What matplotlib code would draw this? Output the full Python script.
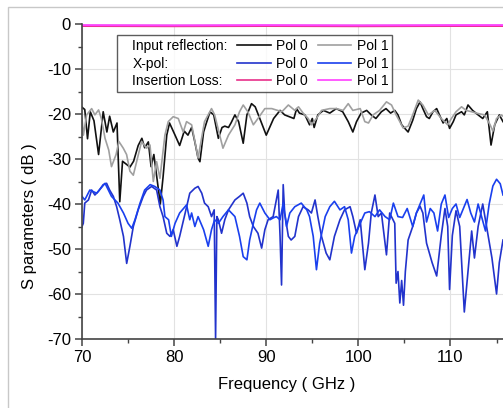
import matplotlib
matplotlib.use("Agg")
import matplotlib.pyplot as plt
from matplotlib.lines import Line2D
from matplotlib.patches import Rectangle
from matplotlib.offsetbox import DrawingArea

plt.rcParams['font.family'] = ['Liberation Sans', 'DejaVu Sans']
plt.rcParams['axes.unicode_minus'] = False

# input reflection, pol 0 (black)
refl0_f = [70.0, 70.3, 70.6, 70.9, 71.3, 71.8, 72.3, 72.7, 73.0, 73.4, 73.8, 74.1, 74.4, 74.9,
           75.2, 75.6, 76.1, 76.5, 76.8, 77.2, 77.5, 77.8, 78.5, 78.8, 79.2, 79.5, 80.1, 80.6,
           81.1, 81.5, 81.9, 82.25, 82.6, 82.8, 83.2, 83.5, 83.9, 84.3, 84.8, 85.2, 85.5, 85.9,
           86.2, 86.6, 87.0, 87.5, 87.9, 88.4, 88.8, 89.3, 90.0, 90.8, 91.5, 92.0, 92.5, 93.0,
           93.3, 93.6, 94.2, 94.7, 95.0, 95.2, 95.6, 96.2, 96.9, 97.6, 98.3, 98.9, 99.4, 99.8,
           100.3, 100.9, 101.4, 101.9, 102.5, 103.0, 103.5, 103.95, 104.3, 104.7, 105.0, 105.4,
           105.9, 106.3, 106.7, 107.0, 107.4, 107.7, 108.1, 108.5, 108.8, 109.2, 109.6, 109.9,
           110.3, 110.6, 111.2, 111.5, 111.9, 112.4, 113.0, 113.5, 114.0, 114.4, 114.8, 115.3, 115.7]
refl0_db = [-18.5, -19.0, -25.5, -19.5, -21.5, -29.0, -19.5, -24.0, -20.5, -24.0, -22.0, -39.5, -30.5, -31.3,
            -31.8, -30.5, -27.0, -25.4, -27.5, -26.2, -31.7, -29.0, -40.0, -34.0, -24.7, -22.0, -24.7, -27.0,
            -23.8, -24.7, -23.0, -26.2, -29.8, -30.6, -24.0, -22.0, -19.5, -20.2, -25.4, -23.0, -22.7, -23.0,
            -21.9, -20.2, -21.7, -26.5, -20.2, -17.7, -18.4, -21.0, -24.7, -21.0, -19.2, -20.2, -20.6, -21.0,
            -18.8, -19.8, -20.2, -22.4, -21.0, -23.0, -20.2, -19.2, -19.8, -18.8, -19.5, -21.7, -24.0, -21.7,
            -19.8, -19.2, -20.2, -21.0, -19.5, -18.8, -19.8, -19.2, -20.2, -22.4, -23.1, -24.0,
            -21.4, -18.8, -17.3, -18.8, -20.6, -21.0, -19.5, -18.8, -20.2, -22.0, -21.0, -23.2,
            -21.7, -20.2, -19.5, -20.2, -18.0, -19.2, -20.2, -21.0, -19.5, -26.9, -22.4, -20.2, -21.7]

# input reflection, pol 1 (grey)
refl1_f = [70.0, 70.15, 70.5, 71.05, 71.4, 71.8, 72.1, 72.5, 72.9, 73.2, 73.7, 74.0, 74.48, 74.84,
           75.2, 75.57, 75.93, 76.47, 77.0, 77.38, 77.74, 78.1, 78.46, 79.0, 79.36, 79.9, 80.45, 80.99,
           81.35, 81.9, 82.4, 82.6, 83.3, 84.06, 84.4, 85.3, 85.9, 86.6, 87.1, 87.5, 88.0, 88.6,
           89.1, 89.85, 90.6, 91.7, 92.4, 93.1, 93.5, 94.0, 94.55, 94.9, 95.45, 96.0, 96.9, 97.6,
           98.35, 98.9, 99.4, 100.2, 100.7, 101.1, 101.6, 102.3, 103.05, 103.6, 104.1, 104.5, 104.85,
           105.4, 105.9, 106.5, 107.0, 107.6, 108.3, 109.0, 109.7, 110.1, 110.6, 111.2, 111.7, 112.3,
           113.0, 113.7, 114.3, 114.6, 115.0, 115.5, 115.7]
refl1_db = [-21.0, -24.7, -20.2, -18.8, -20.2, -19.1, -21.0, -25.4, -28.0, -31.7, -29.0, -26.1, -27.6, -29.0,
            -32.7, -33.6, -30.6, -26.1, -27.6, -26.9, -35.0, -30.6, -34.3, -24.7, -21.7, -20.6, -21.0, -24.0,
            -21.7, -22.4, -27.6, -29.8, -21.7, -18.8, -20.2, -27.6, -24.7, -22.4, -19.5, -18.0, -19.5, -22.4,
            -21.0, -18.8, -18.8, -19.5, -18.0, -19.2, -18.4, -19.8, -21.0, -22.4, -21.0, -19.2, -18.8, -18.8,
            -19.2, -17.7, -19.2, -18.8, -21.7, -22.0, -20.2, -19.2, -17.3, -18.0, -20.2, -21.7, -23.1,
            -22.7, -20.2, -16.9, -18.0, -20.2, -19.2, -21.0, -22.4, -21.0, -19.5, -18.4, -19.2, -19.5,
            -19.9, -20.2, -22.4, -23.8, -21.0, -20.2, -20.5]

# x-pol, pol 0
xpol0_f = [70.0, 70.14, 70.3, 70.7, 71.05, 71.4, 71.77, 72.3, 72.67, 73.0, 73.4, 73.76, 74.1, 74.5,
           74.85, 75.2, 75.57, 76.1, 76.65, 77.0, 77.56, 78.1, 78.46, 78.8, 79.2, 79.55, 79.9, 80.3,
           80.6, 81.2, 81.7, 82.25, 82.6, 83.0, 83.3, 83.7, 84.06, 84.35, 84.5, 84.64, 84.8, 85.15,
           85.5, 85.9, 86.6, 87.1, 87.5, 87.9, 88.2, 88.6, 89.1, 89.5, 89.85, 90.2, 90.75, 91.3,
           91.5, 91.66, 91.84, 92.0, 92.4, 92.7, 93.1, 93.5, 94.0, 94.55, 94.9, 95.3, 95.6, 96.0,
           96.5, 96.9, 97.4, 98.0, 98.5, 99.1, 99.4, 99.8, 100.2, 100.7, 101.1, 101.4, 101.8, 102.15,
           102.5, 103.05, 103.4, 103.95, 104.1, 104.3, 104.5, 104.7, 104.9, 105.1, 105.4, 105.9,
           106.3, 106.7, 107.0, 107.4, 108.0, 108.5, 109.0, 109.4, 109.7, 109.9, 110.2, 110.6,
           111.0, 111.5, 111.9, 112.3, 112.6, 113.0, 113.5, 114.0, 114.5, 115.0, 115.3, 115.7]
xpol0_db = [-45.0, -44.3, -39.8, -39.1, -36.9, -38.0, -37.2, -35.7, -35.4, -36.9, -38.3, -40.6, -43.5, -47.2,
            -53.2, -49.4, -45.0, -41.3, -38.3, -36.9, -36.1, -36.9, -40.6, -42.8, -46.5, -47.2, -45.7, -49.4,
            -47.2, -42.0, -37.6, -36.5, -36.1, -37.6, -39.8, -40.6, -42.8, -41.3, -70.0, -42.8, -43.5, -46.5,
            -43.5, -41.3, -39.1, -38.3, -37.6, -39.8, -42.8, -45.0, -46.5, -49.8, -45.7, -43.5, -42.8, -36.9,
            -47.2, -58.0, -35.7, -42.0, -47.2, -48.0, -47.2, -42.8, -40.6, -41.3, -42.0, -39.1, -42.8, -47.2,
            -50.9, -52.4, -47.2, -43.5, -41.3, -40.6, -42.8, -46.5, -43.5, -54.6, -48.7, -42.0, -38.0, -42.8,
            -42.0, -51.3, -42.0, -44.3, -57.6, -55.0, -62.0, -57.0, -62.5, -55.0, -48.0, -45.0,
            -42.0, -40.5, -42.0, -48.7, -53.0, -56.0, -47.0, -41.0, -45.0, -59.0, -47.0, -41.5,
            -45.0, -64.0, -55.0, -46.0, -52.0, -45.0, -40.0, -46.0, -52.0, -60.0, -53.0, -48.0]

# x-pol, pol 1
xpol1_f = [70.0, 70.3, 70.85, 71.6, 72.5, 73.2, 73.9, 74.5, 75.0, 75.4, 75.75, 76.3, 76.8, 77.4,
           77.9, 78.46, 78.8, 79.0, 79.4, 79.7, 80.1, 80.6, 81.35, 81.7, 81.9, 82.25, 82.6, 83.2,
           83.7, 84.06, 84.4, 84.8, 85.3, 85.9, 86.6, 87.1, 87.5, 87.9, 88.2, 88.6, 88.95, 89.3,
           89.85, 90.4, 90.75, 91.1, 91.5, 91.84, 92.2, 92.56, 93.1, 93.8, 94.4, 94.7, 95.1, 95.45,
           95.8, 96.4, 96.9, 97.4, 98.0, 98.5, 98.9, 99.25, 99.6, 100.2, 100.7, 101.2, 101.8, 102.3,
           102.9, 103.4, 103.8, 104.3, 104.8, 105.3, 105.9, 106.3, 106.7, 107.1, 107.4, 107.8, 108.2,
           108.6, 109.0, 109.4, 109.8, 110.2, 110.6, 111.0, 111.4, 111.8, 112.2, 112.6, 113.0, 113.4,
           113.8, 114.2, 114.6, 115.0, 115.4, 115.7]
xpol1_db = [-38.3, -39.1, -36.9, -37.6, -35.4, -38.3, -39.8, -42.0, -44.3, -45.4, -43.5, -39.8, -36.9, -35.7,
            -36.1, -36.9, -39.1, -42.8, -43.5, -47.2, -44.3, -42.0, -40.2, -43.5, -42.0, -45.0, -42.8, -45.7,
            -49.4, -45.7, -43.5, -44.3, -42.8, -41.3, -42.8, -47.2, -51.7, -52.4, -48.0, -44.3, -41.3, -39.8,
            -42.0, -43.5, -43.1, -42.8, -43.5, -39.8, -45.0, -42.0, -40.6, -39.8, -41.3, -42.8, -47.2, -54.6,
            -48.7, -42.8, -40.6, -39.4, -41.3, -40.6, -43.5, -50.9, -47.2, -44.3, -42.0, -41.7, -42.8, -41.3,
            -42.8, -43.5, -39.8, -42.8, -43.0, -41.0, -45.0, -42.0, -40.0, -38.0, -44.0, -41.0, -42.0,
            -46.0, -40.0, -38.0, -43.0, -41.0, -40.0, -43.0, -41.0, -39.0, -42.0, -44.0, -40.0, -43.0,
            -46.0, -40.0, -36.0, -34.5, -35.5, -38.0]

# insertion loss
il_f = [70.0, 80.0, 90.0, 100.0, 110.0, 115.7]
il0_db = [-0.45, -0.5, -0.45, -0.5, -0.45, -0.45]
il1_db = [-0.25, -0.3, -0.25, -0.3, -0.25, -0.25]

fig = plt.figure(figsize=(5.03, 4.08), dpi=100)
fig.patches.append(Rectangle((8 / 503, -0.1), 1.2, 1.1 - 7 / 408, transform=fig.transFigure,
                             fill=False, edgecolor='#c8c8c8', linewidth=1.0))
ax = fig.add_axes([82 / 503, 69 / 408, 1 - 82 / 503, 315 / 408])

ax.plot(refl0_f, refl0_db, color='#111111', lw=1.2)
ax.plot(refl1_f, refl1_db, color='#a0a0a0', lw=1.2)
ax.plot(xpol0_f, xpol0_db, color='#2233cc', lw=1.2)
ax.plot(xpol1_f, xpol1_db, color='#1a40ee', lw=1.2)
ax.plot(il_f, il0_db, color='#e8308a', lw=1.4)
ax.plot(il_f, il1_db, color='#ff40ff', lw=1.4)

ax.set_xlim(70, 115.7)
ax.set_ylim(-70, 0)
ax.set_xticks([70, 80, 90, 100, 110])
ax.set_xticks([75, 85, 95, 105, 115], minor=True)
ax.set_yticks(range(-70, 1, 10))
ax.set_yticks(range(-65, 0, 10), minor=True)
ax.grid(True, which='major', color='#e2e2e2', lw=0.8)
ax.set_axisbelow(True)
for s in ('top', 'right'):
    ax.spines[s].set_visible(False)
for s in ('left', 'bottom'):
    ax.spines[s].set_color('#444444')
    ax.spines[s].set_linewidth(1.2)
ax.tick_params(which='major', length=5, width=1.1, color='#444444', labelsize=12, pad=3)
ax.tick_params(which='minor', length=3, width=1.0, color='#444444')
ax.set_xlabel('Frequency ( GHz )', fontsize=12)
ax.xaxis.set_label_coords(0.487, -0.12)
ax.set_ylabel('S parameters ( dB )', fontsize=12)
ax.yaxis.set_label_coords(-0.107, 0.39)

blank = Line2D([], [], linestyle='none')
handles = [blank, blank, blank,
           Line2D([], [], color='#111111', lw=1.2), Line2D([], [], color='#2233cc', lw=1.2),
           Line2D([], [], color='#e8308a', lw=1.2),
           Line2D([], [], color='#a0a0a0', lw=1.2), Line2D([], [], color='#1a40ee', lw=1.2),
           Line2D([], [], color='#ff40ff', lw=1.2)]
labels = ['Input reflection:', 'X-pol:', 'Insertion Loss:',
          'Pol 0', 'Pol 0', 'Pol 0', 'Pol 1', 'Pol 1', 'Pol 1']
leg = ax.legend(handles, labels, ncol=3, loc='upper left', bbox_to_anchor=(0.083, 0.965),
                fontsize=10, frameon=True, fancybox=False, handlelength=2.4, handletextpad=0.4,
                columnspacing=0.7, labelspacing=0.25, borderpad=0.3, borderaxespad=0)
leg.get_frame().set_edgecolor('#333333')
leg.get_frame().set_linewidth(1.0)
# first column holds only the row titles: left-aligned, with a short indent instead of a handle
cols = leg._legend_handle_box.get_children()
for col in cols:
    col.align = 'left'
for item in cols[0].get_children():
    item._children = [DrawingArea(4, 0), item._children[1]]

fig.savefig('out.png', dpi=100)
